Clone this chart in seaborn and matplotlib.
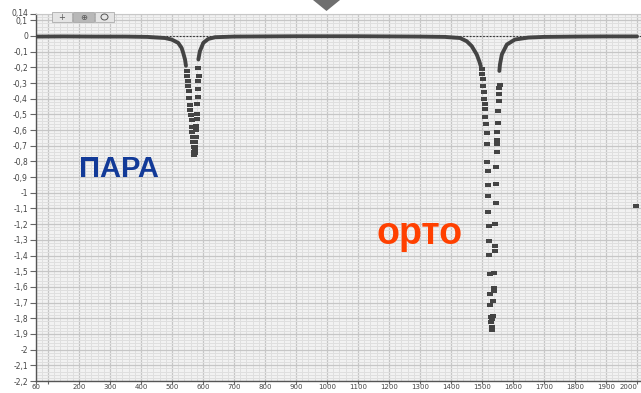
import numpy as np
import pandas as pd
import matplotlib
matplotlib.use("Agg")
import matplotlib.pyplot as plt
from matplotlib.ticker import MultipleLocator, FixedLocator, FixedFormatter
from matplotlib.patches import Polygon, Rectangle, Ellipse
from matplotlib.transforms import ScaledTranslation
import seaborn as sns

# Continuous parts of the trace (dense sampling reads as a solid line)
trace_left_x = [60, 150, 250, 350, 420, 477, 499, 520, 531, 536, 542, 545]
trace_left_y = [-0.004, -0.003, -0.004, -0.004, -0.006, -0.013, -0.023, -0.044, -0.076, -0.107, -0.15, -0.19]

trace_mid_x = [585, 590, 601, 617, 639, 700, 800, 900, 1000, 1100, 1200, 1300, 1380, 1429, 1451, 1467, 1483, 1491, 1496]
trace_mid_y = [-0.15, -0.097, -0.044, -0.019, -0.008, -0.004, -0.003, -0.002, -0.002, -0.002, -0.003, -0.004, -0.006, -0.013, -0.034, -0.065, -0.118, -0.16, -0.192]

trace_right_x = [1556, 1558, 1564, 1580, 1606, 1650, 1700, 1800, 1900, 2000]
trace_right_y = [-0.223, -0.181, -0.118, -0.055, -0.023, -0.01, -0.006, -0.004, -0.003, -0.003]

# Sparse samples inside the para resonance
para_x = [547, 549, 551, 553, 555, 555, 558, 559, 560, 564, 564, 566, 568, 569, 571, 571, 571, 572, 573,
          585, 586, 585, 585, 583, 582, 580, 580, 577, 578, 577, 574, 575, 574]
para_y = [-0.223, -0.255, -0.286, -0.318, -0.35, -0.396, -0.438, -0.472, -0.501, -0.539, -0.582, -0.613, -0.645, -0.676, -0.708, -0.74, -0.761, -0.75, -0.745,
          -0.202, -0.255, -0.286, -0.339, -0.392, -0.434, -0.497, -0.529, -0.571, -0.602, -0.645, -0.676, -0.708, -0.729]

# Sparse samples inside the ortho resonance
ortho_x = [1499, 1501, 1502, 1504, 1507, 1507, 1509, 1510, 1511, 1512, 1515, 1515, 1515, 1519, 1518, 1518, 1518,
           1523, 1523, 1523, 1526, 1526, 1526, 1528, 1529, 1531,
           1558, 1556, 1556, 1556, 1553, 1553, 1549, 1549, 1547, 1547, 1545, 1545, 1545, 1542, 1542, 1542,
           1540, 1539, 1539, 1537, 1535, 1533, 1532]
ortho_y = [-0.213, -0.245, -0.276, -0.318, -0.36, -0.403, -0.434, -0.466, -0.514, -0.561, -0.619, -0.687, -0.803, -0.86, -0.948, -1.022, -1.125,
           -1.212, -1.306, -1.399, -1.517, -1.648, -1.715, -1.791, -1.827, -1.875,
           -0.312, -0.333, -0.371, -0.413, -0.476, -0.556, -0.613, -0.666, -0.687, -0.74, -0.834, -0.944, -1.068, -1.201, -1.338, -1.37,
           -1.511, -1.606, -1.627, -1.69, -1.785, -1.806, -1.858]

stray_x = [1997]
stray_y = [-1.087]

x_ticks = [60, 100, 200, 300, 400, 500, 600, 700, 800, 900, 1000, 1100, 1200, 1300, 1400, 1500, 1600, 1700, 1800, 1900, 2000]
x_tick_labels = ["60", ""] + [str(v) for v in x_ticks[2:]]
y_ticks = [0.14, 0.1] + [round(-0.1 * i, 1) for i in range(0, 23)]


def comma_label(v):
    if v == 0:
        return "0"
    s = f"{v:.2f}".rstrip("0").rstrip(".")
    return s.replace(".", ",")


y_tick_labels = [comma_label(v) for v in y_ticks]

sns.set_theme(style="ticks")
plt.rcParams["font.family"] = ["DejaVu Sans"]

W, H = 641, 393
fig = plt.figure(figsize=(6.41, 3.93), dpi=100)
fig.patch.set_facecolor("white")
ax_left, ax_top, ax_bottom = 35.6, 14, 381
ax = fig.add_axes([ax_left / W, 1 - ax_bottom / H, 1 - ax_left / W, (ax_bottom - ax_top) / H])
ax.set_facecolor("#f2f2f2")

ax.set_xlim(60, 60 + (W - ax_left) / 0.31)
ax.set_ylim(-2.2, 0.14)

ax.xaxis.set_major_locator(FixedLocator(x_ticks))
ax.xaxis.set_major_formatter(FixedFormatter(x_tick_labels))
ax.xaxis.set_minor_locator(MultipleLocator(20))
ax.yaxis.set_major_locator(FixedLocator(y_ticks))
ax.yaxis.set_major_formatter(FixedFormatter(y_tick_labels))
ax.yaxis.set_minor_locator(MultipleLocator(0.02))

ax.grid(which="minor", color="#dfdfdf", lw=0.7)
ax.grid(which="major", color="#c6c6c6", lw=0.9)
ax.set_axisbelow(True)

ax.tick_params(which="major", length=4, width=0.8, color="#666666", pad=1.5,
               labelsize=5.5, labelcolor="#444444")
ax.tick_params(axis="x", which="major", length=2, pad=0.5, labelsize=5)
ax.tick_params(which="minor", length=0)

for side in ("top", "right"):
    ax.spines[side].set_color("#c8c8c8")
    ax.spines[side].set_linewidth(0.8)
for side in ("left", "bottom"):
    ax.spines[side].set_color("#555555")
    ax.spines[side].set_linewidth(1.0)

# zero reference
ax.axhline(0, color="#333333", lw=0.8, ls=(0, (1.5, 1.5)), zorder=2)

trace_color = "#444444"
for tx, ty in ((trace_left_x, trace_left_y), (trace_mid_x, trace_mid_y), (trace_right_x, trace_right_y)):
    sns.lineplot(x=tx, y=ty, ax=ax, color=trace_color, lw=2.8, sort=False,
                 estimator=None, zorder=3)

dash_marker = [(-1, -0.6), (1, -0.6), (1, 0.6), (-1, 0.6)]
dots = pd.DataFrame({"x": para_x + ortho_x + stray_x, "y": para_y + ortho_y + stray_y})
sns.scatterplot(data=dots, x="x", y="y", ax=ax, marker=dash_marker, s=14,
                color=trace_color, linewidth=0, zorder=4)

ax.set_xlabel("")
ax.set_ylabel("")

# lift the top tick label a little so it clears its neighbour
fig.canvas.draw()
top_label = ax.get_yticklabels()[0]
top_label.set_transform(top_label.get_transform() + ScaledTranslation(0, 2 / 100, fig.dpi_scale_trans))
# keep the last x label inside the canvas
last_label = ax.get_xticklabels()[-1]
last_label.set_horizontalalignment("right")

ax.text(329, -0.898, "ПАРА", color="#123a98", fontsize=21, fontweight="bold",
        family=["Liberation Sans", "DejaVu Sans"], ha="center", va="baseline")
ax.text(1300, -1.327, "орто", color="#ff4000", fontsize=27, fontweight="bold",
        family=["Liberation Sans", "DejaVu Sans"], ha="center", va="baseline")

# marker triangle above the plot
fig.patches.append(Polygon([(313 / W, 1), (340 / W, 1), (326.5 / W, 1 - 11 / H)],
                           closed=True, transform=fig.transFigure,
                           facecolor="#6f6f6f", edgecolor="none"))

# graph palette buttons
buttons = [(52, 72, "#e4e4e4", "+"), (73, 94, "#b8b8b8", "⊕"), (95, 114, "#e4e4e4", None)]
for x0, x1, fc, glyph in buttons:
    fig.patches.append(Rectangle((x0 / W, 1 - 22 / H), (x1 - x0) / W, 10 / H,
                                 transform=fig.transFigure, facecolor=fc,
                                 edgecolor="#a0a0a0", lw=0.5))
    if glyph:
        fig.text((x0 + x1) / 2 / W, 1 - 17 / H, glyph, ha="center", va="center",
                 fontsize=6, color="#555555")
    else:
        # small hand-tool icon
        fig.patches.append(Ellipse(((x0 + x1) / 2 / W, 1 - 17 / H), 7 / W, 6 / H,
                                   transform=fig.transFigure, facecolor="none",
                                   edgecolor="#555555", lw=0.7))

fig.savefig("out.png", dpi=100)
